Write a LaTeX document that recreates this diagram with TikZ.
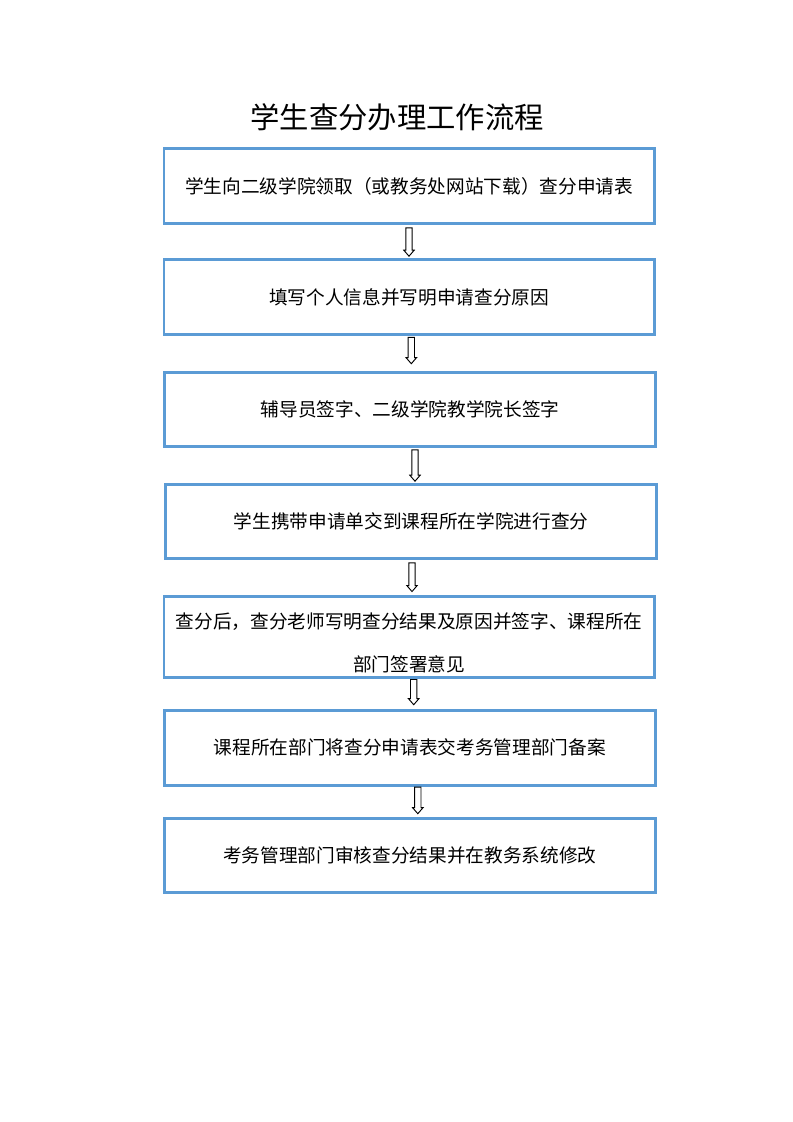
\documentclass[tikz,border=0pt]{standalone}
\usepackage{fontspec}
\newfontfamily\cjk{Noto Sans CJK SC}
\usetikzlibrary{calc}
\definecolor{boxblue}{HTML}{5B9BD5}
\newcommand{\hollowarrow}[2]{%
  \draw[harrow] let \p1=(#1), \p2=(#2) in
    (\x1-2.4pt,\y1) -- (\x1-2.4pt,\y2+4.5pt) -- (\x1-3.9pt,\y2+4.5pt) -- (\x1,\y2)
    -- (\x1+3.9pt,\y2+4.5pt) -- (\x1+2.4pt,\y2+4.5pt) -- (\x1+2.4pt,\y1) -- cycle;}
\begin{document}
\begin{tikzpicture}[x=0.75pt,y=-0.75pt,
  flowbox/.style={draw=boxblue,line width=2.2pt,fill=white,minimum width=368pt,
    minimum height=56pt,inner sep=0pt,align=center,
    font=\cjk\fontsize{14pt}{17pt}\selectfont},
  titletext/.style={font=\cjk\fontsize{22pt}{26pt}\selectfont,inner sep=0pt},
  harrow/.style={draw=black,line width=0.7pt,fill=white,line join=miter}]
\useasboundingbox[fill=white] (0,0) rectangle (793,1122);
\node[titletext] (title) at (397,117) {学生查分办理工作流程};
\node[flowbox] (b1) at (409.3,186) {学生向二级学院领取（或教务处网站下载）查分申请表};
\node[flowbox] (b2) at (409.3,297) {填写个人信息并写明申请查分原因};
\node[flowbox] (b3) at (410,409.5) {辅导员签字、二级学院教学院长签字};
\node[flowbox] (b4) at (411,521.5) {学生携带申请单交到课程所在学院进行查分};
\node[flowbox,minimum height=60.75pt] (b5) at (409.3,637)
  {\rule{0pt}{21pt}查分后，查分老师写明查分结果及原因并签字、课程所在\\[15pt]部门签署意见};
\node[flowbox] (b6) at (409.8,747.8) {课程所在部门将查分申请表交考务管理部门备案};
\node[flowbox] (b7) at (409.8,855.5) {考务管理部门审核查分结果并在教务系统修改};
\coordinate (a1s) at ($(b1.south)+(-0.3,3)$);
\coordinate (a1e) at ($(b2.north)+(-0.3,-2)$);
\coordinate (a2s) at ($(b2.south)+(2,1.5)$);
\coordinate (a2e) at ($(b3.north)+(1.3,-7)$);
\coordinate (a3s) at ($(b3.south)+(5,1.5)$);
\coordinate (a3e) at ($(b4.north)+(4,-1.5)$);
\coordinate (a4s) at ($(b4.south)+(1,2.5)$);
\coordinate (a4e) at ($(b5.north)+(1,-3.5)$);
\coordinate (a5s) at ($(b5.south)+(4.4,0.5)$);
\coordinate (a5e) at ($(b6.north)+(4,-4.3)$);
\coordinate (a6s) at ($(b6.south)+(8,0.5)$);
\coordinate (a6e) at ($(b7.north)+(8,-3)$);
\hollowarrow{a1s}{a1e}
\hollowarrow{a2s}{a2e}
\hollowarrow{a3s}{a3e}
\hollowarrow{a4s}{a4e}
\hollowarrow{a5s}{a5e}
\hollowarrow{a6s}{a6e}
\end{tikzpicture}
\end{document}
